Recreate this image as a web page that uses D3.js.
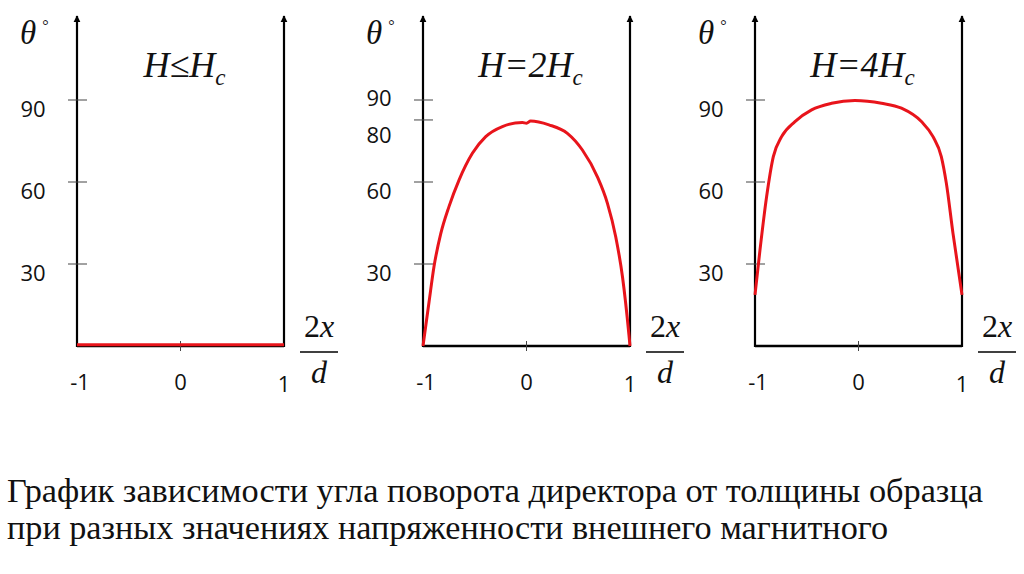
<!DOCTYPE html>
<html>
<head>
  <meta charset="UTF-8">
  <script src="https://d3js.org/d3.v7.min.js"></script>
</head>
<body style="margin:0">
  <script>
    // данные
    const xTickValues = [-1, 0, 1];
    const xTickLabels = ["-1", "0", "1"];

    const titles = ["H≤H", "H=2H", "H=4H"];

    const yTicks1 = [30, 60, 90];
    const yLabels1 = ["30", "60", "90"];
    const yTicks2 = [30, 60, 82.7, 90];
    const yLabels2 = ["30", "60", "80", "90"];
    const yTicks3 = [30, 60, 90];
    const yLabels3 = ["30", "60", "90"];

    // H <= Hc
    const x1 = [-1, 1];
    const theta1 = [0.5, 0.5];

    // H = 2Hc
    const x2 = [-1, -0.942, -0.894, -0.829, -0.749, -0.652, -0.523, -0.394, -0.233, -0.04, 0, 0.04, 0.217, 0.395, 0.54, 0.685, 0.782, 0.862, 0.927, 0.99, 1];
    const theta2 = [0, 16, 29, 41, 51, 60.7, 70.5, 76.6, 80.3, 81.8, 81.5, 82.3, 80.9, 77.8, 71.7, 61.9, 52.2, 40, 25.4, 4, 0];

    // H = 4Hc
    const x3 = [-1, -0.952, -0.888, -0.823, -0.743, -0.614, -0.453, -0.26, -0.035, 0.222, 0.415, 0.608, 0.72, 0.8, 0.849, 0.913, 1];
    const theta3 = [18.7, 35.1, 54.6, 69.3, 76.6, 82.1, 86.4, 88.8, 89.8, 88.8, 87, 82.1, 76.6, 69.3, 59.5, 41.2, 18.7];

    const caption1 = "График зависимости угла поворота директора от толщины образца";
    const caption2 = "при разных значениях напряженности внешнего магнитного";

    const SERIF = '"Times New Roman", "Liberation Serif"';
    const SANS = '"Open Sans"';

    const svg = d3.select('body').append('svg')
      .attr('width', 1024)
      .attr('height', 574);

    svg.append('defs').append('marker')
      .attr('id', 'arrow')
      .attr('viewBox', '0 0 10 10')
      .attr('refX', 9).attr('refY', 5)
      .attr('markerWidth', 3.2).attr('markerHeight', 3.2)
      .attr('markerUnits', 'strokeWidth')
      .attr('orient', 'auto')
      .append('path')
      .attr('d', 'M0,0 L10,5 L0,10 Z')
      .attr('fill', '#000');

    const panels = [
      { left: 77, title: titles[0], ticks: yTicks1, labels: yLabels1, xs: x1, ys: theta1, nudge: {} },
      { left: 423, title: titles[1], ticks: yTicks2, labels: yLabels2, xs: x2, ys: theta2, nudge: { "90": -11, "80": 6 } },
      { left: 755, title: titles[2], ticks: yTicks3, labels: yLabels3, xs: x3, ys: theta3, nudge: {} }
    ];

    const plotW = 207, baseY = 346, topY = 100, arrowY = 16;
    const y = d3.scaleLinear().domain([0, 90]).range([baseY, topY]);

    panels.forEach(p => {
      const x = d3.scaleLinear().domain([-1, 1]).range([p.left, p.left + plotW]);
      const g = svg.append('g');

      // оси
      [p.left, p.left + plotW].forEach(ax => {
        g.append('line')
          .attr('x1', ax).attr('x2', ax)
          .attr('y1', baseY + 1).attr('y2', arrowY)
          .attr('stroke', '#000').attr('stroke-width', 2.2)
          .attr('marker-end', 'url(#arrow)');
      });
      g.append('line')
        .attr('x1', x(-1)).attr('x2', x(1))
        .attr('y1', baseY).attr('y2', baseY)
        .attr('stroke', '#000').attr('stroke-width', 2.5);

      // деления по y
      g.selectAll('.yt').data(p.ticks).enter().append('line')
        .attr('x1', p.left - 9).attr('x2', p.left + 10)
        .attr('y1', d => y(d)).attr('y2', d => y(d))
        .attr('stroke', '#444').attr('stroke-width', 1);

      g.selectAll('.yl').data(p.labels).enter().append('text')
        .attr('font-family', SANS).attr('font-size', 22).attr('fill', '#111')
        .attr('text-anchor', 'middle')
        .attr('x', p.left - 44)
        .attr('y', (d, i) => y(p.ticks[i]) + 17 + (p.nudge[d] || 0))
        .text(d => d);

      // деление 0 по x
      g.append('line')
        .attr('x1', x(0)).attr('x2', x(0))
        .attr('y1', baseY - 5).attr('y2', baseY + 5)
        .attr('stroke', '#444').attr('stroke-width', 1);

      g.selectAll('.xl').data(xTickValues).enter().append('text')
        .attr('font-family', SANS).attr('font-size', 22).attr('fill', '#111')
        .attr('text-anchor', 'middle')
        .attr('x', d => x(d) + (d === -1 ? 3 : 0))
        .attr('y', d => d === 1 ? 392 : 390)
        .text((d, i) => xTickLabels[i]);

      // θ°
      const th = g.append('text')
        .attr('font-family', SERIF).attr('font-style', 'italic').attr('fill', '#111')
        .attr('x', p.left - 57).attr('y', 44)
        .attr('font-size', 33);
      th.append('tspan').text('θ');
      th.append('tspan')
        .attr('font-style', 'normal')
        .attr('font-size', 16)
        .attr('dx', 6).attr('dy', -13)
        .text('°');

      // заголовок
      const t = g.append('text')
        .attr('font-family', SERIF).attr('font-style', 'italic').attr('fill', '#111')
        .attr('text-anchor', 'middle')
        .attr('x', x(0) + 4).attr('y', 77)
        .attr('font-size', 36);
      t.append('tspan').text(p.title);
      t.append('tspan').attr('font-size', 23).attr('dy', 8).text('c');

      // 2x/d
      const fx = p.left + plotW + 35;
      const fr = g.append('text')
        .attr('font-family', SERIF).attr('fill', '#111')
        .attr('font-size', 32)
        .attr('text-anchor', 'middle')
        .attr('x', fx).attr('y', 337);
      fr.append('tspan').text('2');
      fr.append('tspan').attr('font-style', 'italic').text('x');
      g.append('line')
        .attr('x1', fx - 19).attr('x2', fx + 19)
        .attr('y1', 352).attr('y2', 352)
        .attr('stroke', '#000').attr('stroke-width', 1.6);
      g.append('text')
        .attr('font-family', SERIF).attr('font-style', 'italic').attr('fill', '#111')
        .attr('font-size', 32)
        .attr('text-anchor', 'middle')
        .attr('x', fx).attr('y', 383)
        .text('d');

      // кривая
      const pts = p.xs.map((v, i) => [v, p.ys[i]]);
      g.append('path')
        .datum(pts)
        .attr('fill', 'none')
        .attr('stroke', '#e8141b')
        .attr('stroke-width', 3)
        .attr('stroke-linejoin', 'round')
        .attr('d', d3.line()
          .x(d => x(d[0]))
          .y(d => y(d[1]))
          .curve(d3.curveMonotoneX));
    });

    // подпись
    svg.append('text')
      .attr('font-family', SERIF).attr('font-size', 33).attr('fill', '#111')
      .attr('x', 7).attr('y', 502)
      .attr('textLength', 976)
      .attr('lengthAdjust', 'spacingAndGlyphs')
      .text(caption1);
    svg.append('text')
      .attr('font-family', SERIF).attr('font-size', 33).attr('fill', '#111')
      .attr('x', 7).attr('y', 539)
      .attr('textLength', 881)
      .attr('lengthAdjust', 'spacingAndGlyphs')
      .text(caption2);
  </script>
</body>
</html>
